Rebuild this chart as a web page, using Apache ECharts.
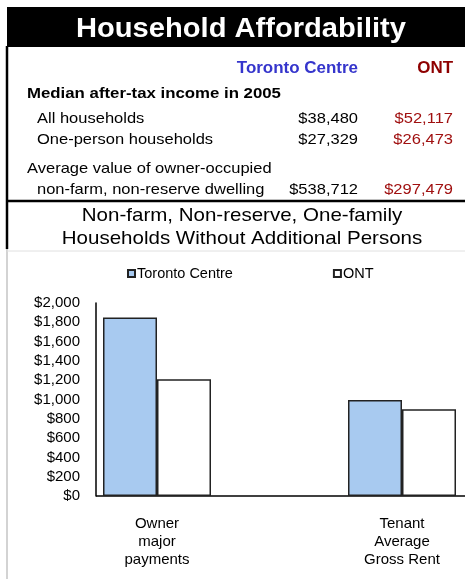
<!DOCTYPE html>
<html><head><meta charset="utf-8">
<script src="https://cdn.jsdelivr.net/npm/echarts@6/dist/echarts.min.js"></script>
<style>html,body{margin:0;padding:0;background:#fff}#c{width:465px;height:579px}</style>
</head><body><div id="c"></div>
<script>
const FONT = '"Liberation Sans", Arial, sans-serif';
const mainTitle = 'Household Affordability';
const colHeaders = ['Toronto Centre', 'ONT'];
const sectionIncome = 'Median after-tax income in 2005';
const incomeRows = ['All households', 'One-person households'];
const incomeTC = ['$38,480', '$27,329'];
const incomeONT = ['$52,117', '$26,473'];
const dwellingLabel = ['Average value of owner-occupied', 'non-farm, non-reserve dwelling'];
const dwellingTC = '$538,712';
const dwellingONT = '$297,479';
const chartSubtitle = ['Non-farm, Non-reserve, One-family', 'Households Without Additional Persons'];
const seriesNames = ['Toronto Centre', 'ONT'];
const categories = ['Owner\nmajor\npayments', 'Tenant\nAverage\nGross Rent'];
const torontoCentre = [1850, 995];
const ontValues = [1210, 900];
const yMin = 0, yMax = 2000, yInterval = 200;

const blue = '#3535cc', darkRed = '#8e0000', red = '#a01010';
function txt(text, x, y, size, opts) {
  opts = opts || {};
  return { type: 'text', x: x, y: y, scaleX: opts.sx || 1.1, style: {
    text: text, fill: opts.fill || '#000', align: opts.align || 'left', verticalAlign: 'bottom',
    font: (opts.bold ? 'bold ' : '') + size + 'px ' + FONT } };
}
const graphic = [
  { type: 'rect', shape: { x: 7, y: 7, width: 458, height: 40 }, style: { fill: '#000' } },
  txt(mainTitle, 241, 43, 28, { fill: '#fff', bold: true, align: 'center', sx: 1.04 }),
  { type: 'line', shape: { x1: 7, y1: 46, x2: 7, y2: 249 }, style: { stroke: '#000', lineWidth: 2.5 } },
  { type: 'line', shape: { x1: 7, y1: 201, x2: 465, y2: 201 }, style: { stroke: '#000', lineWidth: 2.5 } },
  { type: 'line', shape: { x1: 7, y1: 249, x2: 7, y2: 579 }, style: { stroke: '#c4c4c4', lineWidth: 1.5 } },
  { type: 'line', shape: { x1: 7, y1: 251, x2: 465, y2: 251 }, style: { stroke: '#e0e0e0', lineWidth: 1 } },
  txt(colHeaders[0], 358, 77, 16, { fill: blue, bold: true, align: 'right', sx: 1.06 }),
  txt(colHeaders[1], 453, 77, 16, { fill: darkRed, bold: true, align: 'right', sx: 1.06 }),
  txt(sectionIncome, 27, 101, 15, { bold: true, sx: 1.12 }),
  txt(incomeRows[0], 37, 126, 15),
  txt(incomeTC[0], 358, 126, 15, { align: 'right' }),
  txt(incomeONT[0], 453, 126, 15, { fill: red, align: 'right' }),
  txt(incomeRows[1], 37, 147, 15),
  txt(incomeTC[1], 358, 147, 15, { align: 'right' }),
  txt(incomeONT[1], 453, 147, 15, { fill: red, align: 'right' }),
  txt(dwellingLabel[0], 27, 176, 15),
  txt(dwellingLabel[1], 37, 197, 15),
  txt(dwellingTC, 358, 197, 15, { align: 'right' }),
  txt(dwellingONT, 453, 197, 15, { fill: red, align: 'right' }),
  txt(chartSubtitle[0], 242, 225, 19, { align: 'center', sx: 1.08 }),
  txt(chartSubtitle[1], 242, 248, 19, { align: 'center', sx: 1.08 }),
  { type: 'line', shape: { x1: 96, y1: 496, x2: 465, y2: 496 }, style: { stroke: '#000', lineWidth: 1.5 } }
];

const chart = echarts.init(document.getElementById('c'), null, { renderer: 'canvas' });
chart.setOption({
  animation: false,
  textStyle: { fontFamily: FONT },
  graphic: graphic,
  legend: {
    left: 122, top: 261, itemWidth: 7, itemHeight: 7, itemGap: 100,
    icon: 'rect',
    textStyle: { fontSize: 14.5, color: '#000', fontFamily: FONT, padding: [0, 0, 0, -3] },
    data: seriesNames
  },
  grid: { left: 34.5, width: 490, top: 303, bottom: 83, containLabel: false, outerBoundsMode: 'none' },
  xAxis: {
    type: 'category', data: categories,
    axisLine: { show: false }, axisTick: { show: false },
    axisLabel: { color: '#000', fontSize: 15, lineHeight: 18, margin: 19, fontFamily: FONT }
  },
  yAxis: {
    type: 'value', min: yMin, max: yMax, interval: yInterval, offset: -61.5,
    axisLine: { show: true, lineStyle: { color: '#000', width: 1.5 } },
    axisTick: { show: false }, splitLine: { show: false },
    axisLabel: { color: '#000', fontSize: 15, margin: 16, fontFamily: FONT,
      formatter: v => '$' + v.toLocaleString('en-US') }
  },
  series: [
    { name: seriesNames[0], type: 'bar', data: torontoCentre, barWidth: 54, barGap: '0%',
      itemStyle: { color: '#a8caf0', borderColor: '#222', borderWidth: 1.5 } },
    { name: seriesNames[1], type: 'bar', data: ontValues, barWidth: 54,
      itemStyle: { color: '#fff', borderColor: '#222', borderWidth: 1.5 } }
  ]
});
</script></body></html>
